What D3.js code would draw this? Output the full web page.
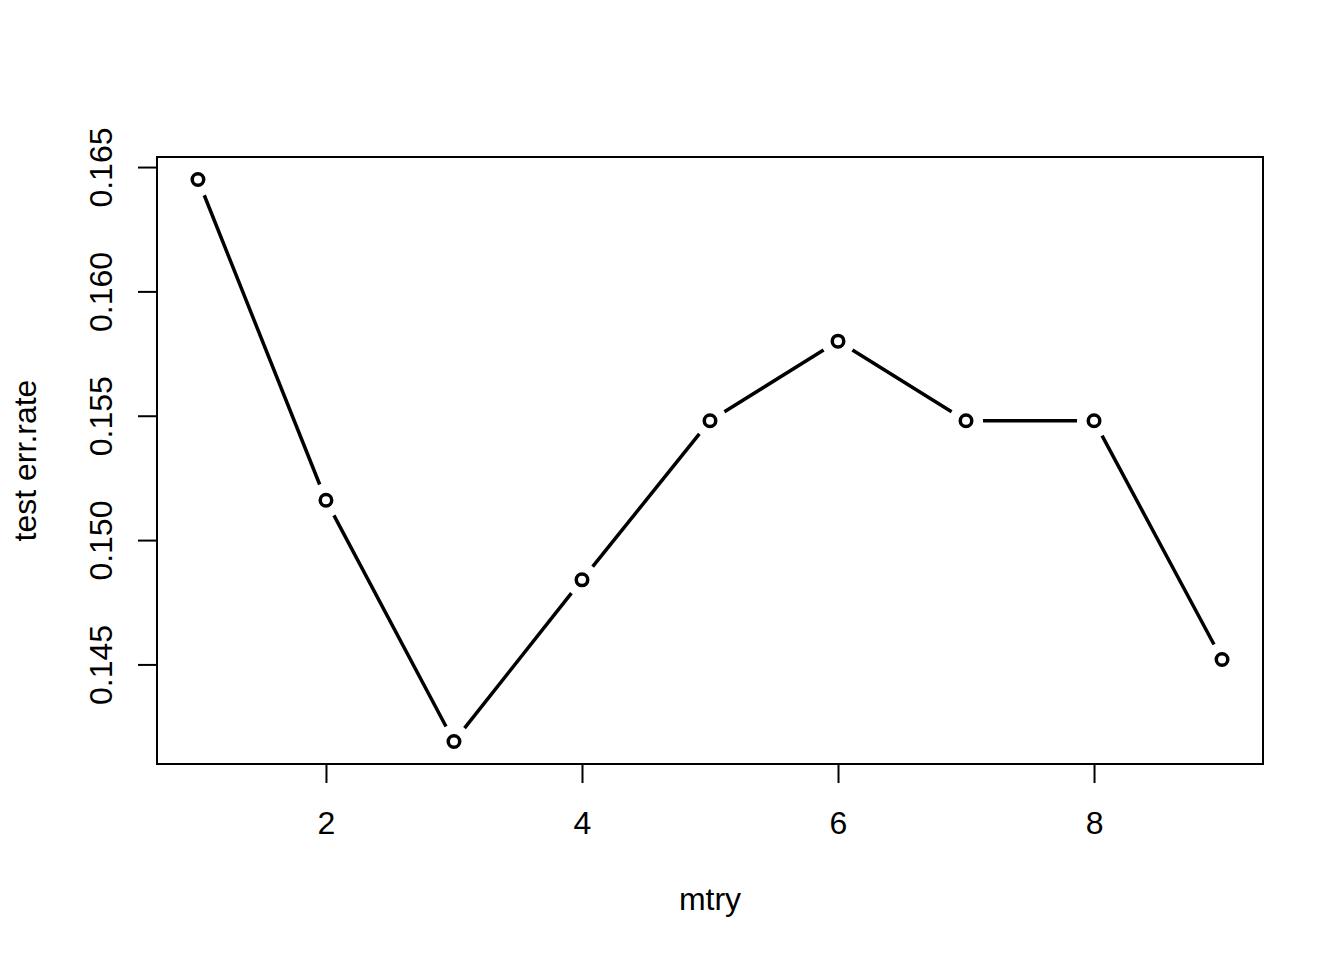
<!DOCTYPE html>
<html><head><meta charset="utf-8">
<script src="https://cdn.jsdelivr.net/npm/d3@7"></script>
<style>html,body{margin:0;padding:0;background:#fff;}svg{display:block;font-family:"Liberation Sans",Arial,sans-serif;}</style>
</head><body>
<script>
const mtry = [1,2,3,4,5,6,7,8,9];
const errRate = [0.1645, 0.1516, 0.1419, 0.1484, 0.1548, 0.1580, 0.1548, 0.1548, 0.1452];
const xTicks = [2,4,6,8];
const yTicks = [0.145,0.150,0.155,0.160,0.165];
const yTickLabels = ["0.145","0.150","0.155","0.160","0.165"];
const xTitle = "mtry", yTitle = "test err.rate";

const W=1344,H=960;
const L=157,R=1263,T=157,B=764;
const svg=d3.select("body").append("svg").attr("width",W).attr("height",H);

const xmin=d3.min(mtry),xmax=d3.max(mtry),xp=(xmax-xmin)*0.04;
const ymin=d3.min(errRate),ymax=d3.max(errRate),yp=(ymax-ymin)*0.04;
const x=d3.scaleLinear().domain([xmin-xp,xmax+xp]).range([L,R]);
const y=d3.scaleLinear().domain([ymin-yp,ymax+yp]).range([B,T]);

const fs=32;
// box
svg.append("rect").attr("x",L).attr("y",T).attr("width",R-L).attr("height",B-T)
  .attr("fill","none").attr("stroke","#000").attr("stroke-width",2);

// x axis
const xa=svg.append("g").attr("transform",`translate(0,${B})`)
  .call(d3.axisBottom(x).tickValues(xTicks).tickSizeOuter(0).tickSizeInner(19).tickPadding(28).tickFormat(d3.format("d")));
xa.select(".domain").attr("d",`M${x(xTicks[0])},0H${x(xTicks[xTicks.length-1])}`).attr("stroke-width",2);
xa.selectAll(".tick line").attr("stroke-width",2);
xa.selectAll("text").attr("font-size",fs).attr("font-family","Liberation Sans, Arial, sans-serif").attr("fill","#000");

// y axis
const ya=svg.append("g").attr("transform",`translate(${L},0)`)
  .call(d3.axisLeft(y).tickValues(yTicks).tickSizeOuter(0).tickSizeInner(19).tickFormat((d,i)=>yTickLabels[i]));
ya.select(".domain").attr("d",`M0,${y(yTicks[0])}V${y(yTicks[yTicks.length-1])}`).attr("stroke-width",2);
ya.selectAll(".tick line").attr("stroke-width",2);
ya.selectAll(".tick text").attr("font-size",fs).attr("font-family","Liberation Sans, Arial, sans-serif").attr("fill","#000")
  .attr("x",null).attr("dy",null).attr("text-anchor","middle")
  .attr("transform",`translate(${112-L},0) rotate(-90)`);

// titles
svg.append("text").attr("x",(L+R)/2).attr("y",910).attr("text-anchor","middle").attr("font-size",fs).text(xTitle);
svg.append("text").attr("transform",`translate(36,${(T+B)/2}) rotate(-90)`).attr("text-anchor","middle").attr("font-size",fs).text(yTitle);

// lines with gaps (type="b")
const gap=17;
const pts=mtry.map((m,i)=>[x(m),y(errRate[i])]);
for(let i=0;i<pts.length-1;i++){
  const [x0,y0]=pts[i],[x1,y1]=pts[i+1];
  const dx=x1-x0,dy=y1-y0,len=Math.hypot(dx,dy);
  if(len<=2*gap) continue;
  const ux=dx/len,uy=dy/len;
  svg.append("line").attr("x1",x0+ux*gap).attr("y1",y0+uy*gap).attr("x2",x1-ux*gap).attr("y2",y1-uy*gap)
    .attr("stroke","#000").attr("stroke-width",3.5);
}
svg.selectAll("circle.pt").data(mtry).enter().append("circle").attr("class","pt")
  .attr("cx",d=>x(d)).attr("cy",(d,i)=>y(errRate[i])).attr("r",5.75)
  .attr("fill","none").attr("stroke","#000").attr("stroke-width",3.5);
</script>
</body></html>
